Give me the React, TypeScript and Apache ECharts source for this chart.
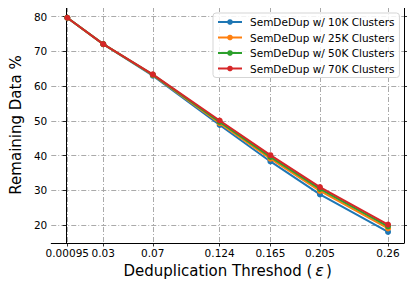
import React, { useEffect, useRef } from "react";
import * as echarts from "echarts";

const thresholds = [0.00095, 0.03, 0.07, 0.124, 0.165, 0.205, 0.26];
const tickLabels = ["0.00095", "0.03", "0.07", "0.124", "0.165", "0.205", "0.26"];
const yTicks = [20, 30, 40, 50, 60, 70, 80];
const seriesNames = [
  "SemDeDup w/ 10K Clusters",
  "SemDeDup w/ 25K Clusters",
  "SemDeDup w/ 50K Clusters",
  "SemDeDup w/ 70K Clusters",
];
const values10K = [79.7, 72.1, 63.0, 48.8, 38.3, 28.8, 18.0];
const values25K = [79.7, 72.1, 63.2, 49.3, 39.1, 29.8, 19.0];
const values50K = [79.7, 72.1, 63.3, 49.7, 39.6, 30.4, 19.6];
const values70K = [79.7, 72.1, 63.4, 50.1, 40.1, 30.9, 20.1];
const colors = ["#1f77b4", "#ff7f0e", "#2ca02c", "#d62728"];

const FONT = "DejaVu Sans";

export default function App() {
  const ref = useRef<HTMLDivElement>(null);
  useEffect(() => {
    if (!ref.current) return;
    const chart = echarts.init(ref.current, undefined, { renderer: "svg" });
    const all = [values10K, values25K, values50K, values70K];
    const gridLine = {
      show: true,
      lineStyle: { color: "#a0a0a0", width: 0.9, type: [5, 2, 1, 2] },
    };
    chart.setOption({
      animation: false,
      backgroundColor: "#ffffff",
      grid: { left: 48, right: 11, top: 7, bottom: 47, containLabel: false },
      legend: {
        data: seriesNames,
        orient: "vertical",
        left: 213,
        top: 13,
        itemWidth: 24,
        itemHeight: 7,
        itemGap: 3.5,
        padding: [3, 5, 3, 4],
        backgroundColor: "rgba(255,255,255,0.85)",
        borderColor: "#d5d5d5",
        borderWidth: 1,
        borderRadius: 3,
        textStyle: {
          fontFamily: FONT,
          fontSize: 10.5,
          lineHeight: 12,
          color: "#000",
          padding: [0, 0, 0, 3],
        },
      },
      xAxis: {
        type: "value",
        min: -0.012,
        max: 0.2729,
        name: "Deduplication Threshod ({e|ε})",
        nameLocation: "middle",
        nameGap: 19,
        nameTextStyle: {
          fontFamily: FONT,
          fontSize: 15,
          color: "#000",
          rich: {
            e: {
              fontFamily: FONT,
              fontSize: 16,
              fontStyle: "italic",
              color: "#000",
              padding: [0, 2, 0, 3],
            },
          },
        },
        axisLine: { show: true, onZero: false, lineStyle: { color: "#000", width: 1 } },
        axisTick: {
          show: true,
          length: 3.5,
          customValues: thresholds,
          lineStyle: { color: "#000", width: 0.8 },
        },
        axisLabel: {
          customValues: thresholds,
          formatter: (v: number) => {
            const i = thresholds.findIndex((t) => Math.abs(t - v) < 1e-9);
            return i >= 0 ? tickLabels[i] : "";
          },
          fontFamily: FONT,
          fontSize: 10.5,
          color: "#000",
          margin: 4,
        },
        splitLine: gridLine,
      },
      yAxis: [
        {
          type: "value",
          min: 14.8,
          max: 82.8,
          name: "Remaining Data %",
          nameLocation: "middle",
          nameGap: 28,
          nameTextStyle: { fontFamily: FONT, fontSize: 15, color: "#000" },
          axisLine: { show: true, lineStyle: { color: "#000", width: 1 } },
          axisTick: {
            show: true,
            length: 3.5,
            customValues: yTicks,
            lineStyle: { color: "#000", width: 0.8 },
          },
          axisLabel: {
            customValues: yTicks,
            fontFamily: FONT,
            fontSize: 10.5,
            color: "#000",
            margin: 4,
          },
          splitLine: gridLine,
        },
        {
          type: "value",
          min: 14.8,
          max: 82.8,
          position: "right",
          axisLine: { show: true, lineStyle: { color: "#000", width: 1 } },
          axisTick: {
            show: true,
            length: 3.5,
            customValues: yTicks,
            lineStyle: { color: "#000", width: 0.8 },
          },
          axisLabel: { show: false },
          splitLine: { show: false },
        },
      ],
      series: all.map((vals, k) => ({
        name: seriesNames[k],
        type: "line",
        data: thresholds.map((t, i) => [t, vals[i]]),
        color: colors[k],
        symbol: "circle",
        symbolSize: 6,
        showSymbol: true,
        lineStyle: { width: 2, color: colors[k] },
        itemStyle: { color: colors[k] },
        z: 2 + k,
      })),
      graphic: [
        {
          type: "line",
          shape: { x1: 48, y1: 7, x2: 404, y2: 7 },
          style: { stroke: "#000", lineWidth: 1 },
          z: 10,
        },
      ],
    });
    return () => chart.dispose();
  }, []);
  return <div ref={ref} style={{ width: 415, height: 290, margin: -8 }} />;
}
